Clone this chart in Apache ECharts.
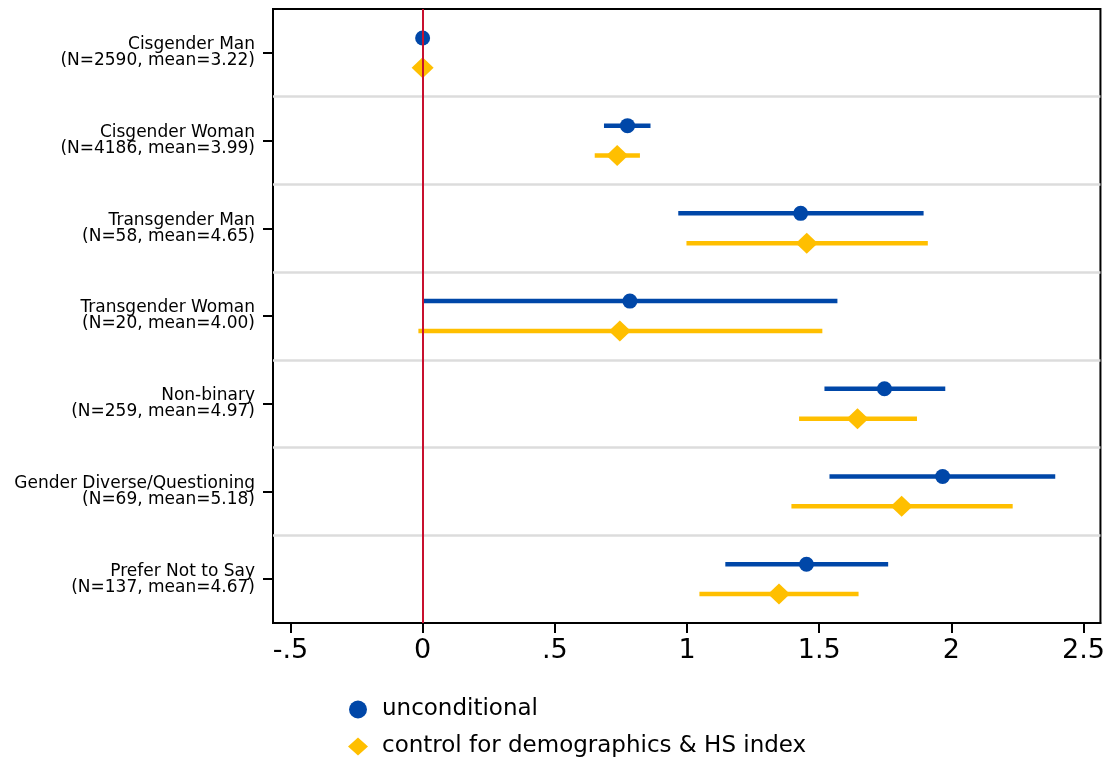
<!DOCTYPE html>
<html>
<head>
<meta charset="utf-8">
<script src="https://cdn.jsdelivr.net/npm/echarts@6/dist/echarts.min.js"></script>
<style>
  html, body {margin: 0; padding: 0; background: #fff;}
  #chart {width: 1108px; height: 761px;}
</style>
</head>
<body>
<div id="chart"></div>
<script>
// group labels, top to bottom
var categories = [
    'Cisgender Man\n(N=2590, mean=3.22)',
    'Cisgender Woman\n(N=4186, mean=3.99)',
    'Transgender Man\n(N=58, mean=4.65)',
    'Transgender Woman\n(N=20, mean=4.00)',
    'Non-binary\n(N=259, mean=4.97)',
    'Gender Diverse/Questioning\n(N=69, mean=5.18)',
    'Prefer Not to Say\n(N=137, mean=4.67)'
];

// unconditional estimates and CI
var uncondEst = [0, 0.775, 1.430, 0.784, 1.747, 1.967, 1.452];
var uncondLo = [0, 0.686, 0.967, 0.0, 1.520, 1.539, 1.145];
var uncondHi = [0, 0.862, 1.895, 1.569, 1.977, 2.393, 1.761];

// control for demographics & HS index
var ctrlEst = [0, 0.736, 1.453, 0.746, 1.645, 1.812, 1.348];
var ctrlLo = [0, 0.651, 0.998, -0.016, 1.424, 1.395, 1.047];
var ctrlHi = [0, 0.822, 1.911, 1.512, 1.870, 2.232, 1.649];

var xTicks = [-0.5, 0, 0.5, 1, 1.5, 2, 2.5];
var xTickLabels = ['-.5', '0', '.5', '1', '1.5', '2', '2.5'];

var BLUE = '#0047A8';
var YELLOW = '#FFBF00';
var FONT = 'DejaVu Sans';

// row offsets inside each band
var offBlue = 0.33, offYellow = 0.67;

function ciData(lo, hi, off) {
    return lo.map(function (v, i) {
        return [v, hi[i], i + off];
    });
}
function ptData(est, off) {
    return est.map(function (v, i) {
        return [v, i + off];
    });
}

function ciRender(color) {
    return function (params, api) {
        var a = api.coord([api.value(0), api.value(2)]);
        var b = api.coord([api.value(1), api.value(2)]);
        if (Math.abs(b[0] - a[0]) < 0.5) return null;
        return {
            type: 'line',
            shape: {x1: a[0], y1: a[1], x2: b[0], y2: b[1]},
            style: {stroke: color, lineWidth: 4.5}
        };
    };
}

// gray separators between the groups + red zero line
var refLines = [];
for (var k = 1; k < categories.length; k++) {
    refLines.push({yAxis: k, lineStyle: {color: '#dcdcdc', width: 2.5, type: 'solid'}});
}
refLines.push({xAxis: 0, lineStyle: {color: '#C8102E', width: 2, type: 'solid'}});

var myChart = echarts.init(document.getElementById('chart'), null, {renderer: 'canvas'});

var option = {
    animation: false,
    backgroundColor: '#fff',
    textStyle: {fontFamily: FONT},
    grid: {
        left: 273, top: 9, right: 7, bottom: 138,
        show: true, borderColor: '#000', borderWidth: 2, backgroundColor: 'transparent'
    },
    legend: {
        orient: 'vertical',
        left: 348,
        top: 698,
        padding: 0,
        itemWidth: 20,
        itemHeight: 18,
        itemGap: 14,
        textStyle: {fontSize: 23, color: '#000', fontFamily: FONT, padding: [0, 0, 0, 9]},
        data: [
            {name: 'unconditional', icon: 'circle'},
            {name: 'control for demographics & HS index', icon: 'diamond'}
        ]
    },
    xAxis: {
        type: 'value',
        min: -0.566,
        max: 2.564,
        axisLine: {show: true, onZero: false, lineStyle: {color: '#000', width: 2}},
        axisTick: {show: true, length: 10, customValues: xTicks, lineStyle: {color: '#000', width: 2}},
        axisLabel: {
            customValues: xTicks,
            margin: 14,
            fontSize: 27,
            color: '#000',
            fontFamily: FONT,
            formatter: function (v) {
                var idx = xTicks.indexOf(Math.round(v * 10) / 10);
                return idx >= 0 ? xTickLabels[idx] : '';
            }
        },
        splitLine: {show: false}
    },
    yAxis: [
        {
            type: 'value',
            min: 0,
            max: 7,
            interval: 1,
            inverse: true,
            axisLine: {show: false},
            axisTick: {show: false},
            axisLabel: {show: false},
            splitLine: {show: false}
        },
        {
            type: 'category',
            data: categories,
            inverse: true,
            boundaryGap: true,
            position: 'left',
            axisLine: {show: true, lineStyle: {color: '#000', width: 2}},
            axisTick: {show: true, alignWithLabel: true, length: 10, lineStyle: {color: '#000', width: 2}},
            axisLabel: {
                margin: 18,
                fontSize: 17,
                lineHeight: 16,
                color: '#000',
                fontFamily: FONT,
                align: 'right',
                padding: [0, 0, 4, 0]
            },
            splitLine: {show: false}
        }
    ],
    series: [
        {
            name: 'ci_uncond',
            type: 'custom',
            yAxisIndex: 0,
            z: 2,
            renderItem: ciRender(BLUE),
            encode: {x: [0, 1], y: 2},
            data: ciData(uncondLo, uncondHi, offBlue),
            markLine: {
                silent: true,
                symbol: 'none',
                label: {show: false},
                data: refLines
            }
        },
        {
            name: 'ci_ctrl',
            type: 'custom',
            yAxisIndex: 0,
            z: 2,
            renderItem: ciRender(YELLOW),
            encode: {x: [0, 1], y: 2},
            data: ciData(ctrlLo, ctrlHi, offYellow)
        },
        {
            name: 'unconditional',
            type: 'scatter',
            yAxisIndex: 0,
            z: 4,
            symbol: 'circle',
            symbolSize: 15,
            itemStyle: {color: BLUE, opacity: 1},
            data: ptData(uncondEst, offBlue)
        },
        {
            name: 'control for demographics & HS index',
            type: 'scatter',
            yAxisIndex: 0,
            z: 4,
            symbol: 'diamond',
            symbolSize: [22, 21],
            itemStyle: {color: YELLOW, opacity: 1},
            data: ptData(ctrlEst, offYellow)
        }
    ]
};

if (option && typeof option === "object") {
    myChart.setOption(option, true);
}
</script>
</body>
</html>
